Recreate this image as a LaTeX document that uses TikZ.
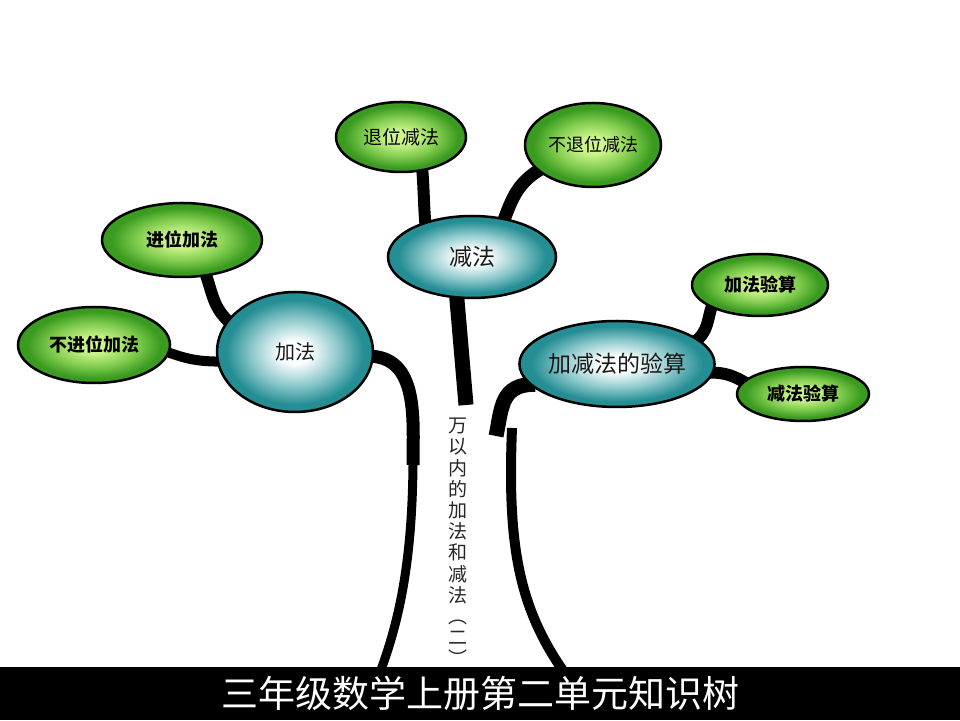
\documentclass[tikz,border=0pt]{standalone}
\usepackage{fontspec}
\setmainfont{Noto Sans CJK SC}
\usetikzlibrary{shapes.geometric,backgrounds}
\definecolor{tealout}{RGB}{36,142,148}
\definecolor{tealmid}{RGB}{140,200,203}
\definecolor{tealin}{RGB}{250,253,253}
\definecolor{limeout}{RGB}{58,155,32}
\definecolor{limemid}{RGB}{130,205,80}
\definecolor{limein}{RGB}{205,245,140}
\pgfdeclareradialshading{tealglow}{\pgfpoint{0bp}{0bp}}{color(0bp)=(tealin); color(5bp)=(tealin); color(14bp)=(tealmid); color(22bp)=(tealout); color(25bp)=(tealout)}
\pgfdeclareradialshading{limeglow}{\pgfpoint{0bp}{0bp}}{color(0bp)=(limein); color(5bp)=(limein); color(14bp)=(limemid); color(22bp)=(limeout); color(25bp)=(limeout)}

\begin{document}
\begin{tikzpicture}[x=1pt, y=1pt,
  topic/.style={ellipse, draw, line width=2.5pt, shading=tealglow, inner sep=0pt, text=black!90},
  leaf/.style={ellipse, draw, line width=2.5pt, shading=limeglow, inner sep=0pt},
  branch/.style={line width=#1, shorten <=-6pt, shorten >=-6pt},
  branch/.default=12pt,
  trunk/.style={line width=#1},
  trunk/.default=9pt]
\useasboundingbox (0,0) rectangle (960,720);
% knowledge nodes
\node[topic, minimum width=156pt, minimum height=120pt, font=\fontsize{20}{24}\selectfont] (jiafa) at (295,368) {加法};
\node[topic, minimum width=168pt, minimum height=82pt, font=\fontsize{23}{27}\selectfont] (jianfa) at (472,463) {减法};
\node[topic, minimum width=156pt, minimum height=86pt, font=\fontsize{23}{27}\selectfont] (yansuan) at (617,356) {加减法的验算};
\node[leaf, minimum width=160pt, minimum height=74pt, font=\fontsize{18}{22}\selectfont\bfseries] (jinwei) at (182,480) {进位加法};
\node[leaf, minimum width=152pt, minimum height=76pt, font=\fontsize{18}{22}\selectfont\bfseries] (bujinwei) at (94,375) {不进位加法};
\node[leaf, minimum width=130pt, minimum height=70pt, font=\fontsize{19}{23}\selectfont] (tuiwei) at (401,583) {退位减法};
\node[leaf, minimum width=136pt, minimum height=84pt, font=\fontsize{18}{22}\selectfont] (butuiwei) at (593,575) {不退位减法};
\node[leaf, minimum width=136pt, minimum height=62pt, font=\fontsize{18}{22}\selectfont\bfseries] (jiayan) at (760,435) {加法验算};
\node[leaf, minimum width=132pt, minimum height=54pt, font=\fontsize{18}{22}\selectfont\bfseries] (jianyan) at (803,326) {减法验算};
% trunk ends
\coordinate (leftfork) at (413,255);
\coordinate (leftroot) at (379,45);
\coordinate (stemend) at (466,315);
\coordinate (rightfork) at (496,284);
\coordinate (righttop) at (512,292);
\coordinate (rightroot) at (566,45);
\node[font=\fontsize{19}{21.2}\selectfont, align=center, inner sep=0pt, text=black!85] (theme) at (458,178) {万\\以\\内\\的\\加\\法\\和\\减\\法\\︵\\二\\︶};
\begin{scope}[on background layer]
\path[fill=white] (0,0) rectangle (960,720);
\path[draw, branch] (jinwei.-56) to[out=-70, in=140] (jiafa.155);
\path[draw, branch=10pt] (bujinwei.-6) to[out=-20, in=180] (jiafa.187);
\path[draw, trunk=13pt, shorten <=-6pt] (jiafa.-3) to[out=0, in=90] (leftfork);
\path[draw, trunk] (leftfork) .. controls (412,160) and (400,100) .. (leftroot);
\path[draw, trunk=15pt, shorten <=-6pt] (jianfa.-110) -- (stemend);
\path[draw, branch] (tuiwei.-58) to[out=-85, in=95] (jianfa.143);
\path[draw, branch=13pt] (butuiwei.205) to[out=210, in=70] (jianfa.50);
\path[draw, trunk=15pt, shorten <=-6pt] (yansuan.193) to[out=180, in=78, looseness=1.2] (rightfork);
\path[draw, trunk=10pt] (righttop) .. controls (507,170) and (520,110) .. (rightroot);
\path[draw, branch] (jiayan.205) to[out=-110, in=35] (yansuan.17);
\path[draw, branch] (jianyan.168) to[out=150, in=0] (yansuan.-5);
\end{scope}
% title bar
\node[fill=black, text=white, minimum width=960pt, minimum height=53pt, inner sep=0pt, font=\fontsize{37}{37}\selectfont] (title) at (480,26.5) {三年级数学上册第二单元知识树};
\end{tikzpicture}
\end{document}
